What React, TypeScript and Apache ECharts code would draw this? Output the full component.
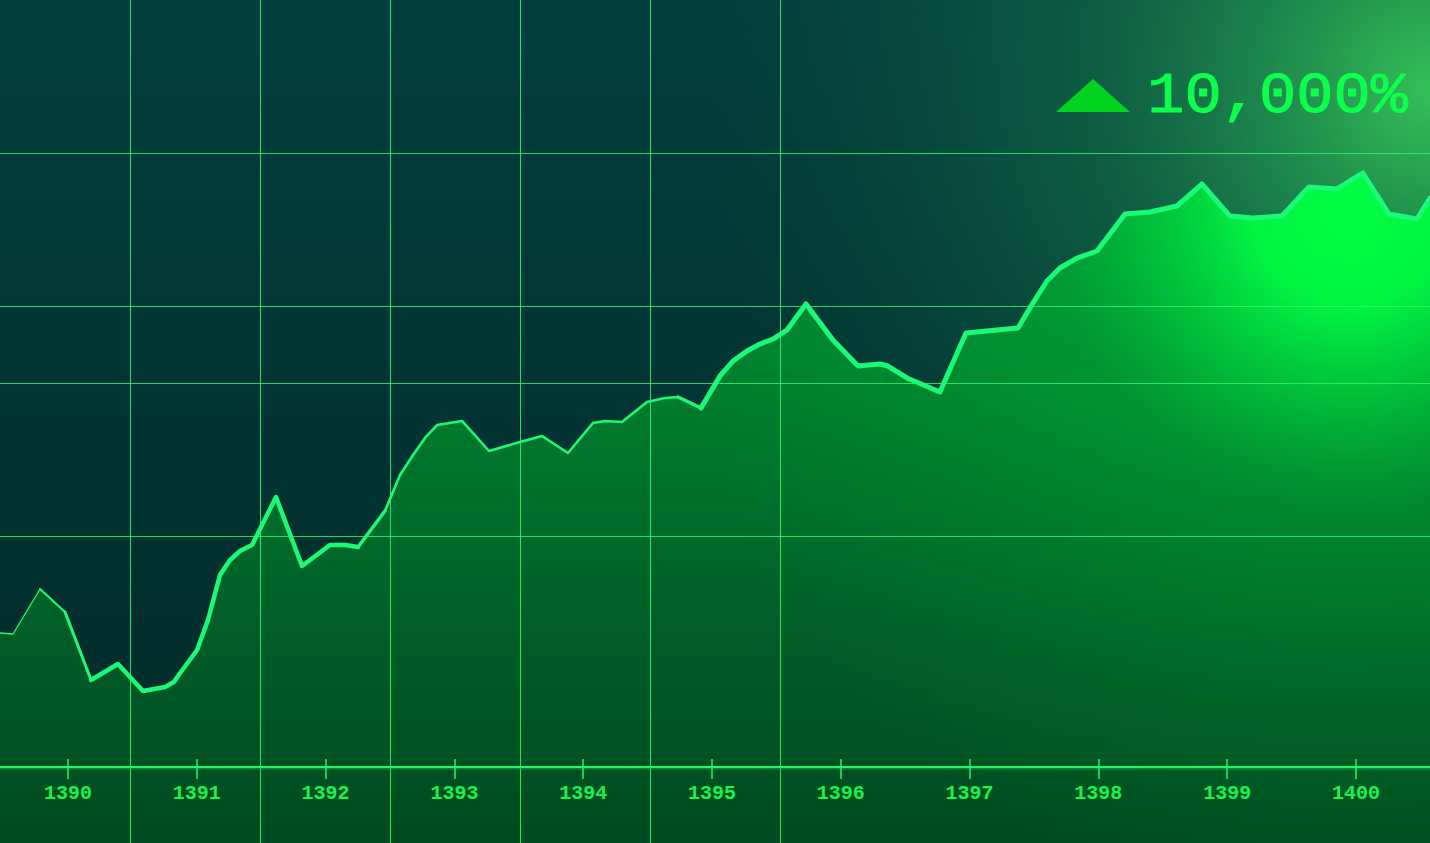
import React, { useEffect, useRef } from "react";
import * as echarts from "echarts";

// ---- data ----
const yearTicks = [1390, 1391, 1392, 1393, 1394, 1395, 1396, 1397, 1398, 1399, 1400];
const xs = [
  1389.472, 1389.573, 1389.783, 1389.977, 1390.179, 1390.388, 1390.582, 1390.753, 1390.823, 1390.854,
  1391.002, 1391.087, 1391.18, 1391.258, 1391.335, 1391.429, 1391.615, 1391.817, 1392.034, 1392.151,
  1392.252, 1392.461, 1392.578, 1392.679, 1392.772, 1392.865, 1393.059, 1393.269, 1393.509, 1393.68,
  1393.882, 1394.076, 1394.169, 1394.301, 1394.495, 1394.635, 1394.736, 1394.915, 1395.062, 1395.163,
  1395.272, 1395.373, 1395.474, 1395.582, 1395.73, 1395.939, 1396.134, 1396.304, 1396.366, 1396.514,
  1396.77, 1396.972, 1397.376, 1397.492, 1397.601, 1397.702, 1397.834, 1397.989, 1398.207, 1398.401,
  1398.61, 1398.804, 1399.022, 1399.2, 1399.425, 1399.635, 1399.853, 1400.054, 1400.256, 1400.474,
  1400.575,
];
const ys = [
  1740, 1727, 2314, 2014, 1127, 1336, 983, 1036, 1101, 1179,
  1518, 1910, 2497, 2693, 2810, 2888, 3515, 2614, 2888, 2888,
  2862, 3332, 3802, 4063, 4285, 4454, 4507, 4115, 4232, 4311,
  4089, 4480, 4507, 4493, 4754, 4807, 4820, 4676, 5094, 5289,
  5420, 5511, 5576, 5694, 6033, 5563, 5224, 5250, 5224, 5068,
  4885, 5655, 5720, 6046, 6333, 6503, 6633, 6725, 7208, 7234,
  7312, 7599, 7181, 7155, 7181, 7560, 7534, 7743, 7208, 7142,
  7416,
];
const gridValues = [3000, 5000, 6000, 8000];
const baselineValue = 0;
const yMin = -1000;
const yMax = 10000;
const headline = "10,000%";

// ---- style helpers (not data) ----
// [startIndex, endIndex, lineWidth]
const strokeSegments: [number, number, number][] = [
  [0, 2, 1.3],
  [2, 3, 2],
  [3, 4, 3],
  [4, 20, 4.5],
  [20, 21, 3.5],
  [21, 36, 2.6],
  [36, 37, 3.5],
  [37, 70, 5],
];

const W = 1430;
const H = 843;

export default function App() {
  const ref = useRef<HTMLDivElement>(null);

  useEffect(() => {
    if (!ref.current) return;
    const chart = echarts.init(ref.current, undefined, { renderer: "svg" });
    const points = xs.map((x, i) => [x, ys[i]]);
    const lineColor = "#19fa79";

    const segSeries = strokeSegments.map(([a, b, w], k) => ({
      type: "line",
      name: "seg" + k,
      data: points.slice(a, b + 1),
      z: 5,
      symbol: "none",
      silent: true,
      lineStyle: { color: lineColor, width: w, cap: "round", join: "round" },
    }));

    const vLines = Array.from({ length: 6 }, (_, i) => 130 * (i + 1)).map((x) => ({
      type: "line",
      z: 3,
      silent: true,
      shape: { x1: x + 0.5, y1: 0, x2: x + 0.5, y2: H },
      style: { stroke: "rgba(30,255,110,0.88)", lineWidth: 1 },
    }));

    const option = {
      animation: false,
      backgroundColor: new echarts.graphic.LinearGradient(0, 0, 0, 1, [
        { offset: 0, color: "#033e3e" },
        { offset: 1, color: "#022a28" },
      ]),
      grid: { left: 0, right: 0, top: 0, bottom: 0, containLabel: false },
      xAxis: {
        type: "value",
        min: xs[0],
        max: xs[xs.length - 1],
        offset: -84,
        z: 6,
        axisLine: { show: false },
        axisTick: {
          show: true,
          customValues: yearTicks,
          length: 20,
          inside: false,
          lineStyle: { color: "#1ef56c", width: 1.5 },
        },
        axisLabel: {
          show: true,
          customValues: yearTicks,
          color: "#17f24f",
          fontFamily: "Liberation Mono",
          fontWeight: "bold",
          fontSize: 20,
          margin: 24,
          formatter: (v: number) => String(v),
        },
        splitLine: { show: false },
      },
      yAxis: {
        type: "value",
        min: yMin,
        max: yMax,
        show: false,
        splitLine: { show: false },
      },
      graphic: [
        {
          type: "rect",
          z: 0,
          silent: true,
          shape: { x: 0, y: 0, width: W, height: H },
          style: {
            fill: new echarts.graphic.RadialGradient(
              1430,
              90,
              720,
              [
                { offset: 0, color: "rgba(52,192,88,1)" },
                { offset: 0.45, color: "rgba(22,118,72,0.6)" },
                { offset: 1, color: "rgba(10,80,60,0)" },
              ],
              true
            ),
          },
        },
        ...vLines,
        {
          type: "polygon",
          z: 10,
          silent: true,
          shape: { points: [[1056, 112], [1093, 79], [1130, 112]] },
          style: { fill: "#00d41f" },
        },
        {
          type: "text",
          z: 10,
          silent: true,
          x: 1408,
          y: 97,
          scaleX: 1.07,
          style: {
            text: headline,
            fill: "#0cff4c",
            stroke: "#0cff4c",
            lineWidth: 1,
            fontFamily: "Liberation Mono",
            fontSize: 58,
            align: "right",
            verticalAlign: "middle",
          },
        },
      ],
      series: [
        {
          type: "line",
          name: "fill",
          data: points,
          z: 2,
          symbol: "none",
          silent: true,
          lineStyle: { width: 0, opacity: 0 },
          areaStyle: {
            origin: "start",
            opacity: 1,
            color: new echarts.graphic.LinearGradient(
              0,
              150,
              0,
              843,
              [
                { offset: 0, color: "#009536" },
                { offset: 0.36, color: "#007c2e" },
                { offset: 0.72, color: "#005b27" },
                { offset: 1, color: "#004b1f" },
              ],
              true
            ),
          },
        },
        {
          type: "line",
          name: "glow",
          data: points,
          z: 2,
          symbol: "none",
          silent: true,
          lineStyle: { width: 0, opacity: 0 },
          areaStyle: {
            origin: "start",
            opacity: 1,
            color: new echarts.graphic.RadialGradient(
              1350,
              210,
              700,
              [
                { offset: 0, color: "rgba(0,255,68,1)" },
                { offset: 0.14, color: "rgba(0,255,68,0.9)" },
                { offset: 0.42, color: "rgba(0,200,58,0.3)" },
                { offset: 1, color: "rgba(0,160,50,0)" },
              ],
              true
            ),
          },
        },
        {
          type: "line",
          name: "grid",
          data: [],
          z: 3,
          silent: true,
          symbol: "none",
          markLine: {
            silent: true,
            symbol: "none",
            label: { show: false },
            lineStyle: { color: "rgba(30,255,110,0.82)", width: 1, type: "solid" },
            data: gridValues.map((v) => ({ yAxis: v })),
          },
        },
        {
          type: "line",
          name: "baselineShadow",
          data: [],
          z: 5,
          silent: true,
          symbol: "none",
          markLine: {
            silent: true,
            symbol: "none",
            label: { show: false },
            lineStyle: { color: "rgba(20,190,80,0.45)", width: 2.5, type: "solid" },
            data: [{ yAxis: baselineValue - 30 }],
          },
        },
        {
          type: "line",
          name: "baseline",
          data: [],
          z: 6,
          silent: true,
          symbol: "none",
          markLine: {
            silent: true,
            symbol: "none",
            label: { show: false },
            lineStyle: { color: "#1ef56c", width: 2, type: "solid", opacity: 1 },
            data: [{ yAxis: baselineValue }],
          },
        },
        ...segSeries,
      ],
    };
    chart.setOption(option as any);
    return () => chart.dispose();
  }, []);

  return (
    <div
      ref={ref}
      style={{ position: "fixed", left: 0, top: 0, width: W, height: H }}
    />
  );
}
